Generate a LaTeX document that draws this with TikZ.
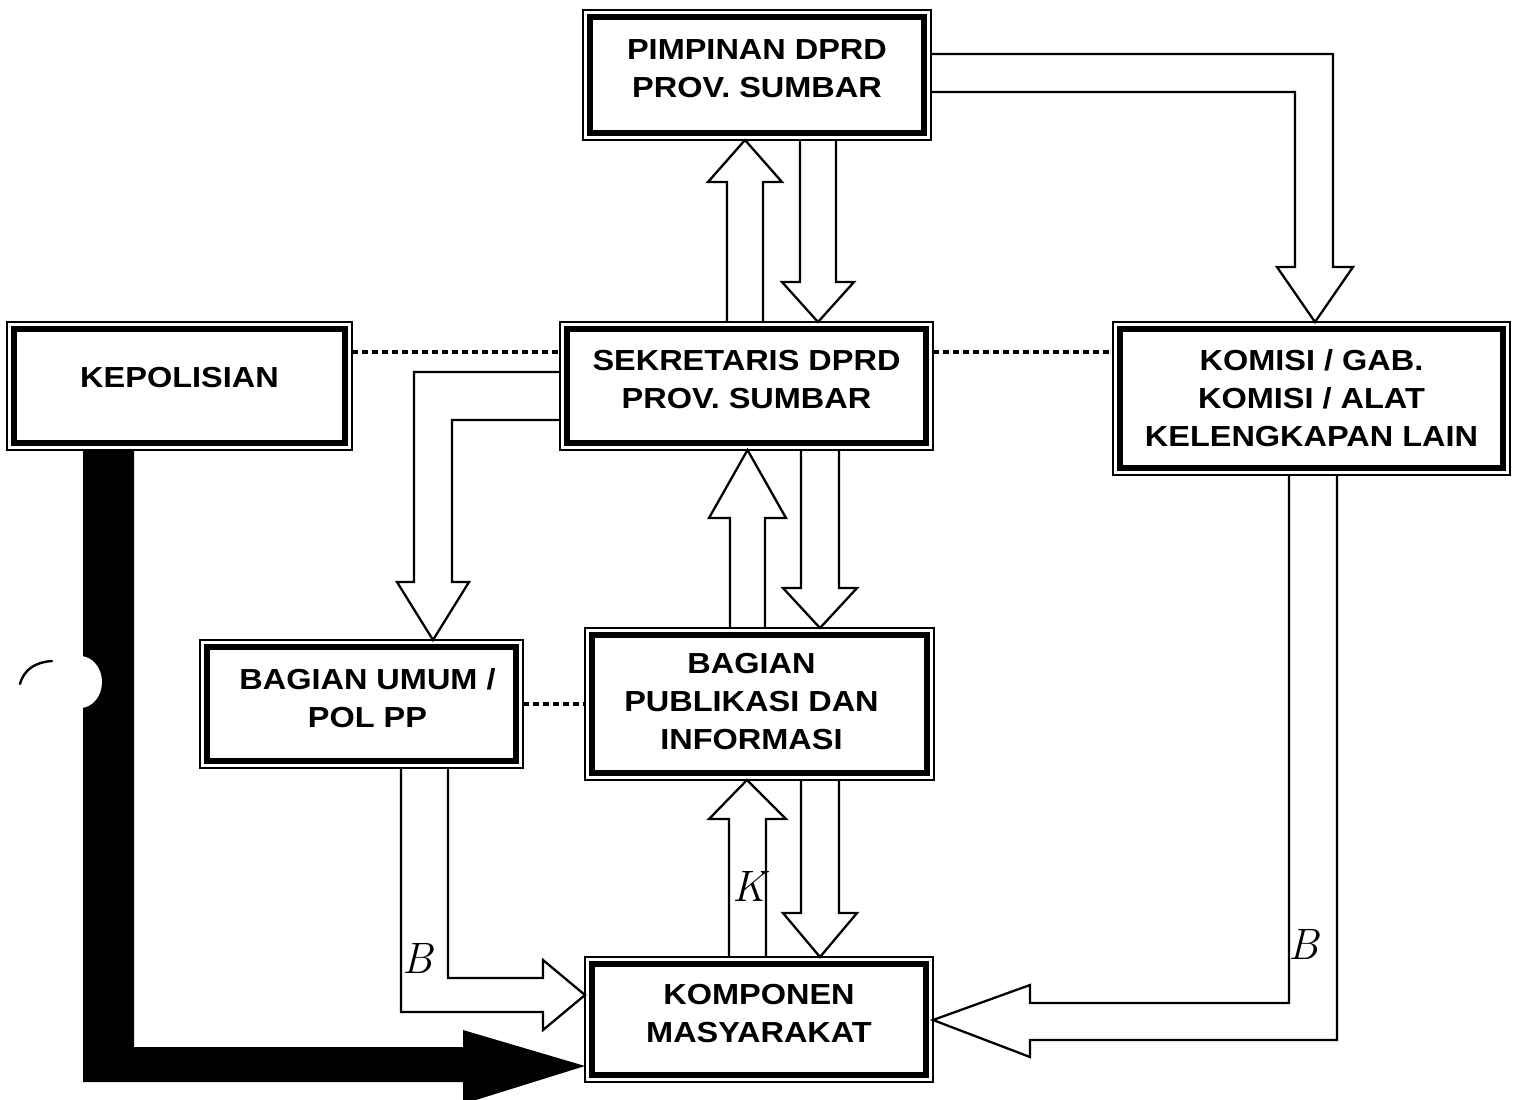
\documentclass[tikz,border=0pt]{standalone}
\usepackage{fontspec}
\newfontface\boxfont{Liberation Sans Bold}[FakeStretch=1.12]
\begin{document}
\begin{tikzpicture}[x=0.5pt,y=-0.5pt,
  frame/.style={draw, line width=0.75pt, inner sep=0pt, outer sep=0pt, fill=white},
  lbl/.style={font=\boxfont\fontsize{14.5}{19}\selectfont, align=center, inner sep=0pt},
  blk/.style={draw, line width=1.15pt, line join=miter},
  dotline/.style={line width=2.2pt, dash pattern=on 3.2pt off 1.8pt},
  hand/.style={font=\itshape\fontsize{22}{22}\selectfont, inner sep=0pt}]
\useasboundingbox (0,0) rectangle (1521,1099);

% boxes (outer thin frame)
\node[frame, minimum width=174pt,   minimum height=65pt]   (pim)  at (757,75)     {};
\node[frame, minimum width=186.5pt, minimum height=64pt]   (sek)  at (746.5,386)  {};
\node[frame, minimum width=172.5pt, minimum height=64pt]   (kep)  at (179.5,386)  {};
\node[frame, minimum width=198.5pt, minimum height=76.5pt] (kom)  at (1311.5,398.5) {};
\node[frame, minimum width=161.5pt, minimum height=64pt]   (umum) at (361.5,704)  {};
\node[frame, minimum width=174.5pt, minimum height=76pt]   (pub)  at (759.5,704)  {};
\node[frame, minimum width=174pt,   minimum height=62.5pt] (mas)  at (759,1019.5) {};

% thick inner frames
\foreach \n in {pim,sek,kep,kom,umum,pub,mas}
  \draw[line width=2.8pt] ([shift={(3.6pt,-3.6pt)}]\n.north west) rectangle ([shift={(-3.6pt,3.6pt)}]\n.south east);

% texts
\node[lbl] (tpim)  at ([yshift=3.25pt]pim.center)  {PIMPINAN DPRD\\PROV. SUMBAR};
\node[lbl] (tsek)  at ([yshift=3pt]sek.center)     {SEKRETARIS DPRD\\PROV. SUMBAR};
\node[lbl] (tkep)  at ([yshift=4pt]kep.center)     {KEPOLISIAN};
\node[lbl] (tkom)  at (kom.center)                 {KOMISI / GAB.\\KOMISI / ALAT\\KELENGKAPAN LAIN};
\node[lbl] (tumum) at ([shift={(3pt,2.75pt)}]umum.center) {BAGIAN UMUM /\\POL PP};
\node[lbl] (tpub)  at ([shift={(-4pt,1pt)}]pub.center)    {BAGIAN\\PUBLIKASI DAN\\INFORMASI};
\node[lbl] (tmas)  at ([yshift=3pt]mas.center)     {KOMPONEN\\MASYARAKAT};

% dotted connections
\draw[dotline] ([yshift=17pt]kep.east) -- ([yshift=17pt]sek.west);
\draw[dotline] ([yshift=17pt]sek.east) -- ([yshift=23.25pt]kom.west);
\draw[dotline] (umum.east) -- (pub.west);

% black thick arrow from KEPOLISIAN to KOMPONEN
\fill[black] (83,0 |- kep.south) -- (83,1082) -- (463,1082) -- (463,1104)
  -- (mas.west |- 0,1066) -- (463,1030) -- (463,1047) -- (134,1047)
  -- (134,0 |- kep.south) -- cycle;
\fill[white] (80,682) ellipse [x radius=11pt, y radius=13pt];
\draw[line width=1.2pt, line cap=round] (20,684) .. controls (24,669) and (36,662) .. (52,661);

% hollow block arrows
% PIMPINAN <-> SEKRETARIS
\draw[blk] (727,0 |- sek.north) -- (727,182) -- (708,182) -- (745,0 |- pim.south)
  -- (782,182) -- (763,182) -- (763,0 |- sek.north);
\draw[blk] (800,0 |- pim.south) -- (800,282) -- (782,282) -- (818,0 |- sek.north)
  -- (854,282) -- (836,282) -- (836,0 |- pim.south);
% SEKRETARIS <-> PUBLIKASI
\draw[blk] (730,0 |- pub.north) -- (730,518) -- (709,518) -- (747.5,0 |- sek.south)
  -- (786,518) -- (765,518) -- (765,0 |- pub.north);
\draw[blk] (801,0 |- sek.south) -- (801,588) -- (783,588) -- (820,0 |- pub.north)
  -- (857,588) -- (839,588) -- (839,0 |- sek.south);
% PUBLIKASI <-> KOMPONEN
\draw[blk] (729,0 |- mas.north) -- (729,819) -- (709,819) -- (747,0 |- pub.south)
  -- (786,819) -- (766,819) -- (766,0 |- mas.north);
\draw[blk] (801,0 |- pub.south) -- (801,913) -- (783,913) -- (820,0 |- mas.north)
  -- (857,913) -- (839,913) -- (839,0 |- pub.south);
% SEKRETARIS -> BAGIAN UMUM
\draw[blk] (sek.west |- 0,372) -- (414,372) -- (414,582) -- (397,582) -- (433,0 |- umum.north)
  -- (469,582) -- (452,582) -- (452,420) -- (sek.west |- 0,420);
% BAGIAN UMUM -> KOMPONEN
\draw[blk] (401,0 |- umum.south) -- (401,1012) -- (543,1012) -- (543,1030) -- (mas.west |- 0,995)
  -- (543,960) -- (543,978) -- (448,978) -- (448,0 |- umum.south);
% PIMPINAN -> KOMISI
\draw[blk] (pim.east |- 0,54) -- (1333,54) -- (1333,267) -- (1353,267) -- (1315,0 |- kom.north)
  -- (1277,267) -- (1295,267) -- (1295,92) -- (pim.east |- 0,92);
% KOMISI -> KOMPONEN
\draw[blk] (1289,0 |- kom.south) -- (1289,1003) -- (1030,1003) -- (1030,985) -- (mas.east |- 0,1020)
  -- (1030,1057) -- (1030,1040) -- (1337,1040) -- (1337,0 |- kom.south);

% handwritten marks
\node[hand] (hb1) at (418,958) {B};
\node[hand] (hk)  at (749,886) {K};
\node[hand] (hb2) at (1304,944) {B};
\end{tikzpicture}
\end{document}
